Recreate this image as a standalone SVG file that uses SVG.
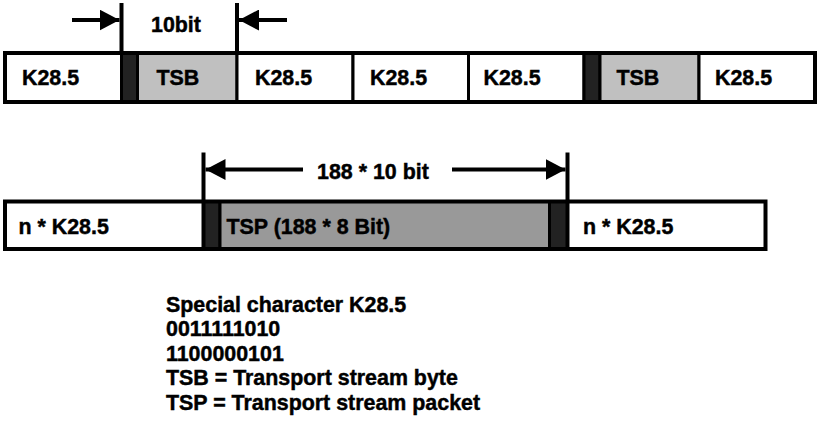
<svg xmlns="http://www.w3.org/2000/svg" width="820" height="422" viewBox="0 0 820 422">
<style>
text{font-family:"Liberation Sans",Arial,sans-serif;font-weight:bold;font-size:21.4px;fill:#000;stroke:#000;stroke-width:0.45}
.cell{stroke:#000;stroke-width:3}
.w{fill:#fff}
.dk{fill:#222}
.g1{fill:#c0c0c0}
.g2{fill:#999}
.outer{fill:none;stroke:#000;stroke-width:4}
.ln{stroke:#000;stroke-width:4;fill:none}
</style>
<defs>
<marker id="ah" markerUnits="userSpaceOnUse" markerWidth="20" markerHeight="21" refX="20" refY="10.5" orient="auto">
<path d="M0,0 L20,10.5 L0,21 Z" fill="#000"/>
</marker>
</defs>
<rect width="820" height="422" fill="#fff"/>
<g id="row1">
<g id="r1c1"><rect class="cell w" x="5" y="53" width="116.5" height="49"/><text x="22" y="84.5">K28.5</text></g>
<g id="r1d1"><rect class="cell dk" x="121.5" y="53" width="16" height="49"/></g>
<g id="r1tsb1"><rect class="cell g1" x="137.5" y="53" width="99.5" height="49"/><text x="156.5" y="84.5">TSB</text></g>
<g id="r1c2"><rect class="cell w" x="237" y="53" width="116" height="49"/><text x="255" y="84.5">K28.5</text></g>
<g id="r1c3"><rect class="cell w" x="353" y="53" width="115.5" height="49"/><text x="370" y="84.5">K28.5</text></g>
<g id="r1c4"><rect class="cell w" x="468.5" y="53" width="115.5" height="49"/><text x="483.5" y="84.5">K28.5</text></g>
<g id="r1d2"><rect class="cell dk" x="584" y="53" width="16" height="49"/></g>
<g id="r1tsb2"><rect class="cell g1" x="600" y="53" width="99" height="49"/><text x="616.5" y="84.5">TSB</text></g>
<g id="r1c5"><rect class="cell w" x="699" y="53" width="116" height="49"/><text x="715" y="84.5">K28.5</text></g>
<rect class="outer" x="5" y="53" width="810" height="49"/>
</g>
<g id="row2">
<g id="r2n1"><rect class="cell w" x="5" y="201.5" width="198.5" height="47.5"/><text x="18.5" y="234">n * K28.5</text></g>
<g id="r2d1"><rect class="cell dk" x="203.5" y="201.5" width="16.5" height="47.5"/></g>
<g id="r2tsp"><rect class="cell g2" x="220" y="201.5" width="329.5" height="47.5"/><text x="226.5" y="234">TSP (188 * 8 Bit)</text></g>
<g id="r2d2"><rect class="cell dk" x="549.5" y="201.5" width="18" height="47.5"/></g>
<g id="r2n2"><rect class="cell w" x="567.5" y="201.5" width="198" height="47.5"/><text x="583" y="234">n * K28.5</text></g>
<rect class="outer" x="5" y="201.5" width="760.5" height="47.5"/>
</g>
<g id="connectors">
<line class="ln" x1="121.5" y1="3" x2="121.5" y2="53"/>
<line class="ln" x1="237" y1="3" x2="237" y2="53"/>
<line class="ln" x1="72" y1="20" x2="119.5" y2="20" marker-end="url(#ah)"/>
<line class="ln" x1="287" y1="20" x2="239" y2="20" marker-end="url(#ah)"/>
<line class="ln" x1="203.5" y1="152.5" x2="203.5" y2="249"/>
<line class="ln" x1="567.5" y1="152.5" x2="567.5" y2="249"/>
<line class="ln" x1="303" y1="169.5" x2="205.5" y2="169.5" marker-end="url(#ah)"/>
<line class="ln" x1="452" y1="169.5" x2="565.5" y2="169.5" marker-end="url(#ah)"/>
</g>
<g id="labels">
<text x="151" y="31.5">10bit</text>
<text x="317" y="178.5">188 * 10 bit</text>
</g>
<g id="legend">
<text x="166" y="311.5">Special character K28.5</text>
<text x="166" y="336">0011111010</text>
<text x="166" y="360.5">1100000101</text>
<text x="166" y="385">TSB = Transport stream byte</text>
<text x="166" y="409.5">TSP = Transport stream packet</text>
</g>
</svg>
